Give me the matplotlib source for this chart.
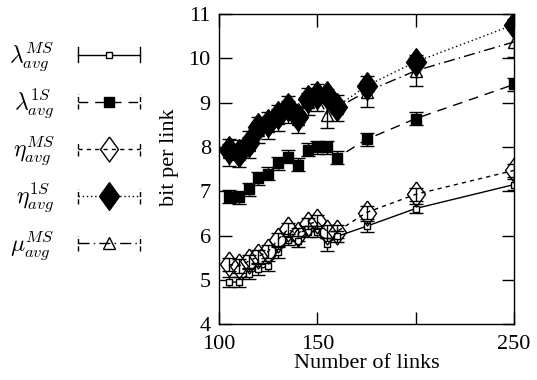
import matplotlib
matplotlib.use('Agg')
import matplotlib.pyplot as plt
from matplotlib.legend_handler import HandlerLine2D
from matplotlib.lines import Line2D

### Data ---------------------------------------------------------------------------------------------------------------

links = [105, 110, 115, 120, 125, 130, 135, 140, 145, 150, 155, 160, 175, 200, 250]

lambdaMS = [4.95, 4.95, 5.13, 5.24, 5.31, 5.62, 5.91, 5.87, 6.09, 6.09, 5.80, 5.98, 6.21, 6.61, 7.15]
lambdaMSErr = [0.12, 0.12, 0.12, 0.12, 0.12, 0.13, 0.13, 0.13, 0.13, 0.13, 0.14, 0.13, 0.12, 0.10, 0.12]

lambda1S = [6.88, 6.86, 7.04, 7.29, 7.40, 7.63, 7.78, 7.60, 7.94, 7.99, 7.99, 7.76, 8.17, 8.64, 9.41]
lambda1SErr = [0.15, 0.15, 0.14, 0.14, 0.14, 0.15, 0.15, 0.15, 0.14, 0.14, 0.14, 0.15, 0.15, 0.15, 0.15]

etaMS = [5.35, 5.31, 5.42, 5.53, 5.64, 5.91, 6.14, 6.03, 6.25, 6.32, 6.09, 6.09, 6.52, 6.93, 7.47]
etaMSErr = [0.15, 0.15, 0.15, 0.15, 0.15, 0.15, 0.15, 0.15, 0.15, 0.15, 0.15, 0.15, 0.15, 0.15, 0.15]

eta1S = [7.94, 7.87, 8.10, 8.44, 8.55, 8.73, 8.91, 8.68, 9.09, 9.18, 9.18, 8.91, 9.38, 9.92, 10.76]
eta1SErr = [0.12, 0.12, 0.12, 0.12, 0.12, 0.12, 0.12, 0.12, 0.12, 0.12, 0.12, 0.12, 0.12, 0.12, 0.12]

muMS = [7.88, 7.85, 8.05, 8.38, 8.48, 8.65, 8.85, 8.62, 9.02, 9.12, 8.73, 8.88, 9.25, 9.72, 10.37]
muMSErr = [0.3, 0.3, 0.3, 0.3, 0.3, 0.3, 0.3, 0.3, 0.3, 0.3, 0.3, 0.3, 0.35, 0.35, 0.35]

xTicks = [100, 150, 200, 250]
xTickLabels = ['100', '150', '', '250']
yTicks = [4, 5, 6, 7, 8, 9, 10, 11]

### Style --------------------------------------------------------------------------------------------------------------

plt.rcParams['font.family'] = ['Liberation Serif', 'DejaVu Serif']
plt.rcParams['mathtext.fontset'] = 'cm'

tallDiamond = [(0, 1), (0.72, 0), (0, -1), (-0.72, 0), (0, 1)]


class CapHandler(HandlerLine2D):
    # gnuplot style legend sample: horizontal line with end caps
    def create_artists(self, legend, orig_handle, xdescent, ydescent, width, height, fontsize, trans):
        artists = super().create_artists(legend, orig_handle, xdescent, ydescent, width, height,
                                         fontsize, trans)
        yc = height / 2 - ydescent
        for xe in (-xdescent, -xdescent + width):
            cap = Line2D([xe, xe], [yc - 0.45 * height, yc + 0.45 * height], color='k', lw=1.0,
                         linestyle=orig_handle.get_linestyle())
            cap.set_transform(trans)
            artists.append(cap)
        return artists


### Plot ---------------------------------------------------------------------------------------------------------------

fig = plt.figure(figsize=(5.37, 3.80), dpi=100)
ax = fig.add_axes([0.408, 0.147, 0.549, 0.816])

series = [
    (lambdaMS, lambdaMSErr, dict(marker='s', ms=5, mfc='white', linestyle='-'), r'$\lambda_{avg}^{MS}$'),
    (lambda1S, lambda1SErr, dict(marker='s', ms=7, mfc='k', linestyle=(0, (7, 5))), r'$\lambda_{avg}^{1S}$'),
    (etaMS, etaMSErr, dict(marker=tallDiamond, ms=18, mfc='none', linestyle=(0, (3, 3))), r'$\eta_{avg}^{MS}$'),
    (muMS, muMSErr, dict(marker='^', ms=9, mfc='none', linestyle=(0, (8, 3, 1, 3))), r'$\mu_{avg}^{MS}$'),
    (eta1S, eta1SErr, dict(marker=tallDiamond, ms=20, mfc='k', linestyle=(0, (1, 2))), r'$\eta_{avg}^{1S}$'),
]

handles = {}
for values, errs, style, label in series:
    ax.errorbar(links, values, yerr=errs, color='k', mec='k', lw=1.0, elinewidth=1.0,
                capsize=5, capthick=1.0, **style)
    handles[label] = Line2D([], [], color='k', mec='k', lw=1.0, **style)

order = [r'$\lambda_{avg}^{MS}$', r'$\lambda_{avg}^{1S}$', r'$\eta_{avg}^{MS}$',
         r'$\eta_{avg}^{1S}$', r'$\mu_{avg}^{MS}$']
fig.legend([handles[k] for k in order], order, loc='upper left', bbox_to_anchor=(0.0, 0.92),
           frameon=False, markerfirst=False, fontsize=17, handlelength=2.6, labelspacing=0.55,
           handletextpad=1.0, borderaxespad=0.0,
           handler_map={Line2D: CapHandler(numpoints=1)})

ax.set_xlim(100, 250)
ax.set_ylim(4, 11)
ax.set_xticks(xTicks)
ax.set_xticklabels(xTickLabels)
ax.set_yticks(yTicks)
ax.tick_params(direction='in', length=9, width=1.0, top=True, right=True, labelsize=16)
ax.tick_params(axis='x', pad=8)
ax.tick_params(axis='y', pad=6)
ax.set_xlabel('Number of links', fontsize=16, labelpad=0)
ax.set_ylabel('bit per link', fontsize=16)
ax.yaxis.set_label_coords(-0.136, 0.54)
for spine in ax.spines.values():
    spine.set_linewidth(1.0)

fig.savefig('out.png', dpi=100)
